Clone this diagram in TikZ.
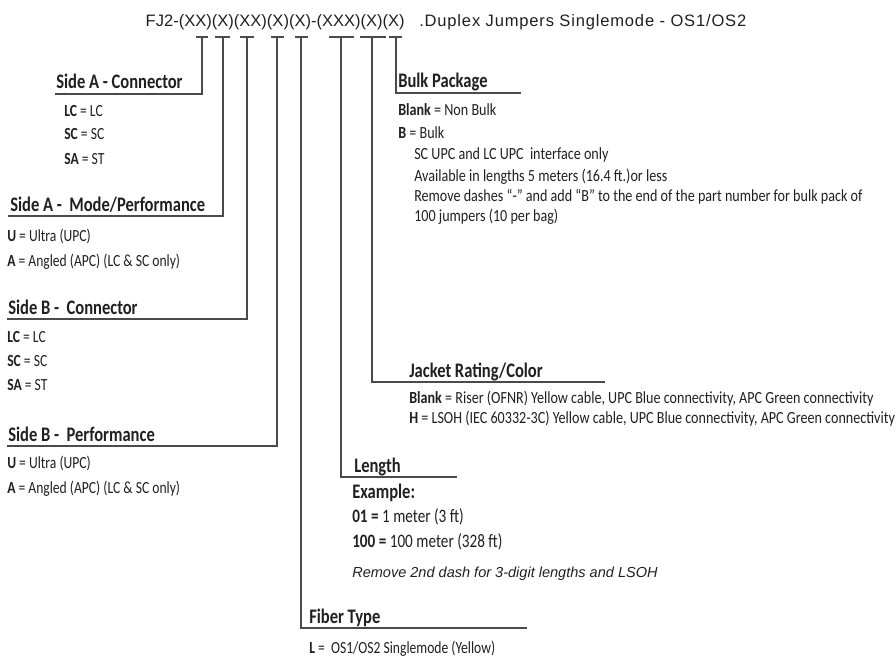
\documentclass[tikz,border=0pt]{standalone}
\usepackage{fontspec}
\setmainfont{Carlito}[FakeStretch=0.80]
\newfontfamily\widebody{Carlito}[FakeStretch=0.83]
\newfontfamily\titlefont{Liberation Sans}
\definecolor{ink}{HTML}{231F20}
\definecolor{rulec}{HTML}{4A4A4A}
\begin{document}
\begin{tikzpicture}[x=0.75pt,y=-0.75pt,
  every node/.style={inner sep=0pt, text=ink},
  hd/.style={anchor=base west, font=\fontsize{15.5pt}{17pt}\selectfont\bfseries},
  bd/.style={anchor=base west, font=\fontsize{12.75pt}{14pt}\selectfont},
  wd/.style={anchor=base west, font=\widebody\fontsize{12.75pt}{14pt}\selectfont},
  lg/.style={anchor=base west, font=\fontsize{14.25pt}{16pt}\selectfont},
  nt/.style={anchor=base west, font=\titlefont\itshape\fontsize{10.9pt}{13pt}\selectfont},
  ln/.style={draw=rulec, line width=1pt}]
\useasboundingbox (0,0) rectangle (896,656);

% title
\node[anchor=base east, font=\titlefont\fontsize{12.4pt}{14pt}\selectfont] (pn) at (405,27) {FJ2-(XX)(X)(XX)(X)(X)-(XXX)(X)(X)};
\node[anchor=base west, font=\titlefont\fontsize{12.4pt}{14pt}\selectfont\addfontfeature{LetterSpace=5}] (desc) at (419,27) {.Duplex Jumpers Singlemode - OS1/OS2};

% tick anchors and ends of leaders
\coordinate (t1) at (202,37); \coordinate (e1) at (55,94);
\coordinate (t2) at (223,37); \coordinate (e2) at (8,216);
\coordinate (t3) at (247,37); \coordinate (e3) at (7,319);
\coordinate (t4) at (277,37); \coordinate (e4) at (7,446);
\coordinate (t5) at (301,37); \coordinate (e5) at (527,628);
\coordinate (t6) at (341,37); \coordinate (e6) at (457,477);
\coordinate (t7) at (372,37); \coordinate (e7) at (605,382);
\coordinate (t8) at (396,37); \coordinate (e8) at (521,93);

\draw[ln] (196,37) -- (208,37);
\draw[ln] (215,37) -- (230,37);
\draw[ln] (240,37) -- (254,37);
\draw[ln] (271,37) -- (284,37);
\draw[ln] (295,37) -- (308,37);
\draw[ln] (329,37) -- (354,37);
\draw[ln] (360,37) -- (386,37);
\draw[ln] (389,37) -- (402,37);

\draw[ln] (t1) |- (e1);
\draw[ln] (t2) |- (e2);
\draw[ln] (t3) |- (e3);
\draw[ln] (t4) |- (e4);
\draw[ln] (t5) |- (e5);
\draw[ln] (t6) |- (e6);
\draw[ln] (t7) |- (e7);
\draw[ln] (t8) |- (e8);

% Side A - Connector
\node[hd] (h1) at (56,89) {Side A - Connector};
\node[bd] (a1) at (64,117) {\textbf{LC} = LC};
\node[bd] (a2) at (64,140) {\textbf{SC} = SC};
\node[bd] (a3) at (64,165) {\textbf{SA} = ST};

% Side A - Mode/Performance
\node[hd] (h2) at (10,211) {Side A -\ \ Mode/Performance};
\node[bd] (b1) at (7,241) {\textbf{U} = Ultra (UPC)};
\node[bd] (b2) at (7,267) {\textbf{A} = Angled (APC) (LC \& SC only)};

% Side B - Connector
\node[hd] (h3) at (8,314) {Side B -\ \ Connector};
\node[bd] (c1) at (7,342) {\textbf{LC} = LC};
\node[bd] (c2) at (7,366) {\textbf{SC} = SC};
\node[bd] (c3) at (7,390) {\textbf{SA} = ST};

% Side B - Performance
\node[hd] (h4) at (8,441) {Side B -\ \ Performance};
\node[bd] (d1) at (7,468) {\textbf{U} = Ultra (UPC)};
\node[bd] (d2) at (7,493) {\textbf{A} = Angled (APC) (LC \& SC only)};

% Bulk Package
\node[hd] (h8) at (398,88) {Bulk Package};
\node[wd] (k1) at (398,116) {\textbf{Blank} = Non Bulk};
\node[wd] (k2) at (398,139) {\textbf{B} = Bulk};
\node[wd] (k3) at (414,160) {SC UPC and LC UPC\ \ interface only};
\node[wd] (k4) at (414,181) {Available in lengths 5 meters (16.4 ft.)or less};
\node[wd] (k5) at (414,202) {Remove dashes “-” and add “B” to the end of the part number for bulk pack of};
\node[wd] (k6) at (414,222) {100 jumpers (10 per bag)};

% Jacket Rating/Color
\node[hd] (h7) at (409,377) {Jacket Rating/Color};
\node[wd] (j1) at (409,403) {\textbf{Blank} = Riser (OFNR) Yellow cable, UPC Blue connectivity, APC Green connectivity};
\node[wd] (j2) at (409,423) {\textbf{H} = LSOH (IEC 60332-3C) Yellow cable, UPC Blue connectivity, APC Green connectivity};

% Length
\node[hd] (h6) at (354,472) {Length};
\node[hd] (l0) at (352,498) {Example:};
\node[lg] (l1) at (352,522) {\textbf{01 =} 1 meter (3 ft)};
\node[lg] (l2) at (352,547) {\textbf{100 =} 100 meter (328 ft)};
\node[nt] (l3) at (352,577) {Remove 2nd dash for 3-digit lengths and LSOH};

% Fiber Type
\node[hd] (h5) at (309,623) {Fiber Type};
\node[bd] (f1) at (309,653) {\textbf{L} =\ \ OS1/OS2 Singlemode (Yellow)};
\end{tikzpicture}
\end{document}
